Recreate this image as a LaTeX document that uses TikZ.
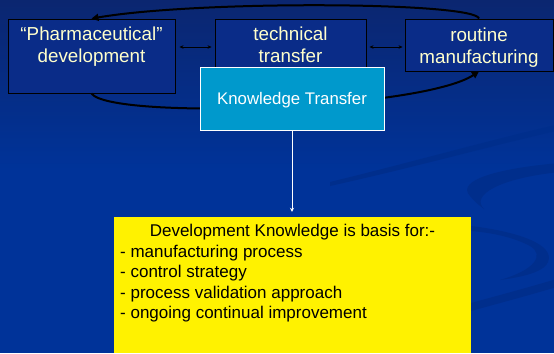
\documentclass[tikz,border=0pt]{standalone}
\usepackage{fontspec}
\setmainfont{Liberation Sans}
\usetikzlibrary{arrows.meta}
\definecolor{bgmain}{HTML}{003399}
\definecolor{bgtop}{HTML}{0B2670}
\definecolor{boxblue}{HTML}{0A2C88}
\definecolor{cream}{HTML}{FFFFCC}
\definecolor{ktcyan}{HTML}{0099CC}
\definecolor{swoosh}{HTML}{002E8C}
\begin{document}
\begin{tikzpicture}[x=1bp,y=-1bp,
  stagebox/.style={draw=black, line width=0.9bp, fill=boxblue, inner sep=0},
  stagetext/.style={text=cream, font=\fontsize{18.8bp}{22bp}\selectfont, align=center, inner sep=0, anchor=north},
  dbl/.style={{Stealth[length=4bp,width=3.5bp]}-{Stealth[length=4bp,width=3.5bp]}, line width=0.6bp, black},
  loopline/.style={line width=2bp, black, -{Triangle[length=7bp,width=7bp]}},
  listtext/.style={font=\fontsize{17bp}{20.6bp}\selectfont, text=black, inner sep=0}
]
\useasboundingbox (0,0) rectangle (554,353);
\fill[bgmain] (0,0) rectangle (554,353);
\shade[top color=bgtop, bottom color=bgmain] (0,0) rectangle (554,170);
% background swooshes
\fill[swoosh] (330,182) .. controls (420,160) and (490,140) .. (560,124) -- (560,130) .. controls (490,146) and (420,166) .. (330,186) -- cycle;
\fill[swoosh] (560,163) .. controls (500,168) and (455,180) .. (470,196) .. controls (475,202) and (480,206) .. (484,209) .. controls (470,195) and (500,178) .. (560,172) -- cycle;
\fill[swoosh] (471,226) .. controls (520,232) and (555,245) .. (548,262) .. controls (545,270) and (530,276) .. (500,280) .. controls (535,270) and (545,255) .. (530,246) .. controls (515,238) and (495,233) .. (471,231) -- cycle;
\fill[swoosh] (471,303) .. controls (500,295) and (530,287) .. (560,278) -- (560,286) .. controls (530,295) and (500,303) .. (471,311) -- cycle;

% stage boxes
\node[stagebox, minimum width=167bp, minimum height=74bp] (b1) at (91.5,56) {};
\node[stagebox, minimum width=151bp, minimum height=74bp] (b2) at (290.5,56) {};
\node[stagebox, minimum width=148bp, minimum height=52bp] (b3) at (479,45) {};
\node[stagetext] (t1) at (91.5,27) {“Pharmaceutical”\\development};
\node[stagetext] (t2) at (290.5,27) {technical\\transfer};
\node[stagetext] (t3) at (479,27.5) {routine\\manufacturing};

% double arrows
\draw[dbl, shorten <=4bp, shorten >=3bp] ([yshift=9bp]b1.east) -- ([yshift=9bp]b2.west);
\draw[dbl, shorten <=3bp, shorten >=2bp] ([yshift=9bp]b2.east) -- ([yshift=9bp]b2.east -| b3.west);

% loops
\draw[loopline] (b3.north) .. controls (475,2) and (200,0) .. (b1.north);
\draw[loopline] (b1.south) .. controls (110,120) and (420,110) .. (b3.south);

% knowledge transfer
\node[draw=white, line width=1bp, fill=ktcyan, minimum width=184bp, minimum height=63bp, text=white,
      font=\fontsize{16.8bp}{20bp}\selectfont, text depth=0pt, inner sep=0] (kt) at (292,98.5) {Knowledge Transfer};

% yellow box
\node[fill=yellow, minimum width=357bp, minimum height=136bp, inner sep=0] (yb) at (292.5,285) {};
\draw[white, line width=0.8bp, -{Stealth[length=4bp,width=4bp]}, shorten >=5bp] (kt.south) -- (kt.south |- yb.north);
\node[listtext, anchor=base] (yh) at (292.5,236) {Development Knowledge is basis for:-};
\node[listtext, anchor=north west, align=left] (yl) at (120,244.6) {- manufacturing process\\- control strategy\\- process validation approach\\- ongoing continual improvement};
\end{tikzpicture}
\end{document}
